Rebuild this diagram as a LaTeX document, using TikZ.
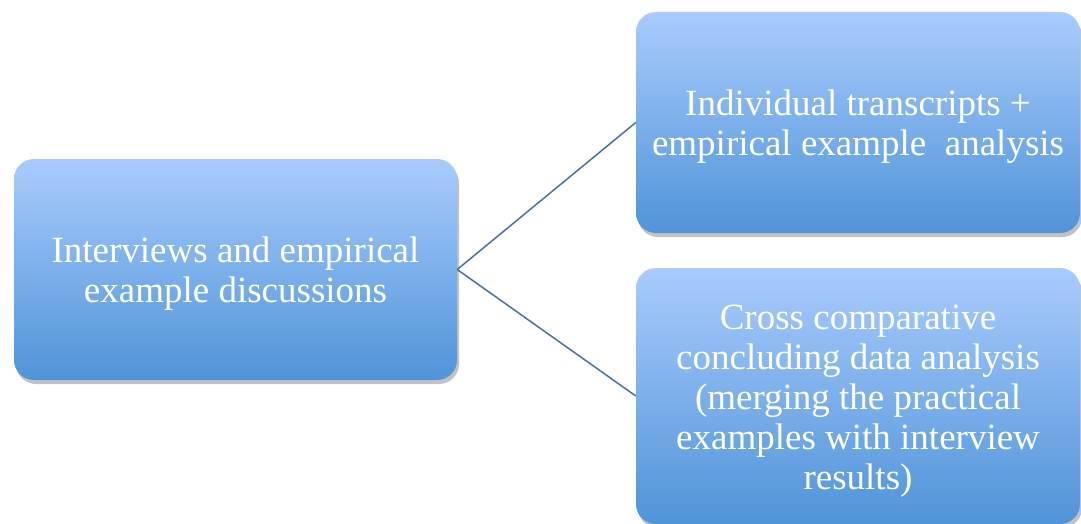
\documentclass[tikz,border=0pt]{standalone}
\usepackage{fontspec}
\setmainfont{Liberation Serif}
\usepackage{tikz}
\usetikzlibrary{positioning,shadows}
\definecolor{boxtop}{RGB}{169,203,253}
\definecolor{boxbot}{RGB}{80,148,216}
\definecolor{linkcol}{RGB}{74,112,158}
\newcommand{\topgap}{\rule{0pt}{34pt}}
\tikzset{
	stage/.style={rectangle,rounded corners=20pt,top color=boxtop,bottom color=boxbot,
		text=white,align=center,inner sep=0pt,
		font=\fontsize{37}{40}\selectfont,
		drop shadow={shadow xshift=2pt,shadow yshift=-4pt,opacity=0.4,fill=black!60}},
	link/.style={draw=linkcol,line width=1.5pt}
}
\begin{document}
\begin{tikzpicture}[x=1pt,y=-1pt]
\useasboundingbox (0,0) rectangle (1081,524);
\node[stage,minimum width=443pt,minimum height=221pt] (Interviews) at (235.5,269.5)
   {\topgap Interviews and empirical\\example discussions};
\node[stage,minimum width=444pt,minimum height=221pt] (Transcripts) at (858,122.5)
   {\topgap Individual transcripts +\\empirical example~ analysis};
\node[stage,minimum width=444pt,minimum height=256pt] (Cross) at (858,396)
   {\topgap Cross comparative\\concluding data analysis\\(merging the practical\\examples with interview\\results)};
\draw[link] (Interviews.east) -- (Transcripts.west);
\draw[link] (Interviews.east) -- (Cross.west);
\end{tikzpicture}
\end{document}
